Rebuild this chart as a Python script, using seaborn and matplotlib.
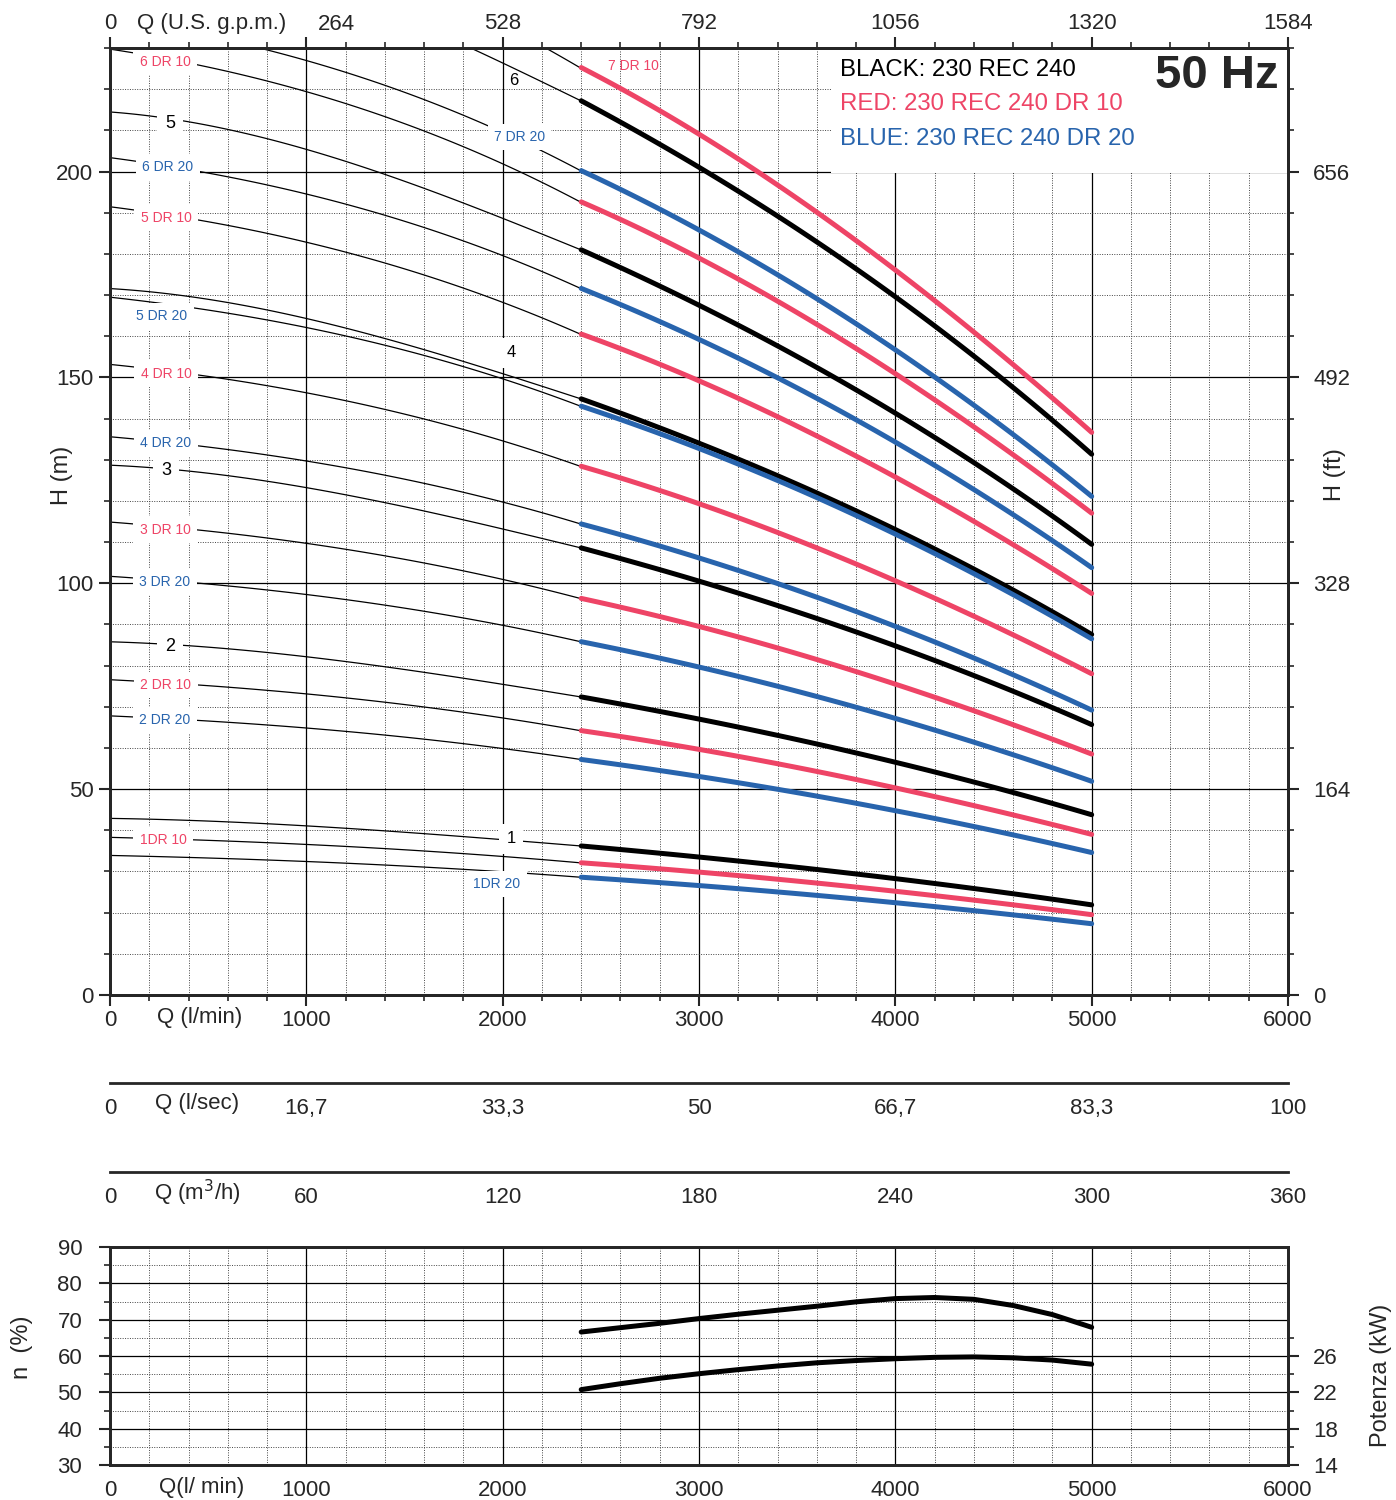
import matplotlib
matplotlib.use("Agg")
import matplotlib.pyplot as plt
from matplotlib.ticker import MultipleLocator
from matplotlib.patches import Rectangle
import seaborn as sns

# flow grids (l/min): thin part of each curve and thick (working range) part
Q_THIN = [0, 400, 800, 1200, 1600, 2000, 2400]
Q_THICK = [2400, 3000, 3500, 4000, 4500, 5000]

# head (m), one row per stage count
BLACK_THIN = [
    [42.9, 42.4, 41.6, 40.5, 39.2, 37.7, 36.2],
    [85.8, 84.8, 83.2, 81.0, 78.4, 75.4, 72.4],
    [128.7, 127.2, 124.8, 121.5, 117.6, 113.1, 108.6],
    [171.6, 169.6, 166.4, 162.0, 156.8, 150.8, 144.8],
    [214.5, 212.0, 208.0, 202.5, 196.0, 188.5, 181.0],
    [257.4, 254.4, 249.6, 243.0, 235.2, 226.2, 217.2],
]
BLACK_THICK = [
    [36.2, 33.5, 31.0, 28.3, 25.2, 21.9],
    [72.4, 67.0, 62.0, 56.6, 50.4, 43.8],
    [108.6, 100.5, 93.0, 84.9, 75.6, 65.7],
    [144.8, 134.0, 124.0, 113.2, 100.8, 87.6],
    [181.0, 167.5, 155.0, 141.5, 126.0, 109.5],
    [217.2, 201.0, 186.0, 169.8, 151.2, 131.4],
]
RED_THIN = [
    [38.3, 37.7, 37.0, 36.1, 35.0, 33.6, 32.1],
    [76.6, 75.4, 74.0, 72.2, 70.0, 67.2, 64.2],
    [114.9, 113.1, 111.0, 108.3, 105.0, 100.8, 96.3],
    [153.2, 150.8, 148.0, 144.4, 140.0, 134.4, 128.4],
    [191.5, 188.5, 185.0, 180.5, 175.0, 168.0, 160.5],
    [229.8, 226.2, 222.0, 216.6, 210.0, 201.6, 192.6],
    [268.1, 263.9, 259.0, 252.7, 245.0, 235.2, 225.2],
]
RED_THICK = [
    [32.1, 29.9, 27.6, 25.2, 22.5, 19.5],
    [64.2, 59.7, 55.2, 50.3, 44.9, 39.0],
    [96.3, 89.6, 82.8, 75.5, 67.4, 58.5],
    [128.4, 119.4, 110.4, 100.6, 89.8, 78.0],
    [160.5, 149.3, 138.0, 125.8, 112.3, 97.5],
    [192.6, 179.1, 165.6, 150.9, 134.7, 117.0],
    [225.2, 209.3, 193.2, 176.1, 157.2, 136.6],
]
BLUE_THIN = [
    [33.9, 33.4, 32.8, 32.0, 31.1, 29.9, 28.6],
    [67.8, 66.8, 65.6, 64.0, 62.2, 59.8, 57.2],
    [101.7, 100.2, 98.4, 96.0, 93.3, 89.7, 85.8],
    [135.6, 133.6, 131.2, 128.0, 124.4, 119.6, 114.4],
    [169.5, 167.0, 164.0, 160.0, 155.5, 149.5, 143.0],
    [203.4, 200.4, 196.8, 192.0, 186.6, 179.4, 171.6],
    [237.3, 233.8, 229.6, 224.0, 217.7, 209.3, 200.2],
]
BLUE_THICK = [
    [28.6, 26.6, 24.6, 22.4, 20.0, 17.3],
    [57.2, 53.1, 49.1, 44.8, 39.9, 34.6],
    [85.8, 79.7, 73.7, 67.2, 59.9, 51.9],
    [114.4, 106.2, 98.2, 89.6, 79.8, 69.2],
    [143.0, 132.8, 122.8, 112.0, 99.8, 86.5],
    [171.6, 159.3, 147.3, 134.4, 119.7, 103.8],
    [200.2, 185.9, 171.9, 156.8, 139.7, 121.1],
]

# efficiency (%) and power (kW)
EFF_Q = [2400, 2600, 2800, 3000, 3200, 3400, 3600, 3800, 4000, 4200, 4400, 4600, 4800, 5000]
EFF = [66.6, 67.8, 69.0, 70.3, 71.5, 72.6, 73.7, 74.9, 75.8, 76.1, 75.6, 73.9, 71.4, 67.9]
POWER = [22.3, 22.95, 23.55, 24.05, 24.5, 24.9, 25.25, 25.5, 25.7, 25.85, 25.9, 25.8, 25.55, 25.1]

# tick labels of the unit scales
LMIN_TICKS = [0, 1000, 2000, 3000, 4000, 5000, 6000]
GPM_LABELS = ["0", "", "528", "792", "1056", "1320", "1584"]
LSEC_LABELS = ["0", "16,7", "33,3", "50", "66,7", "83,3", "100"]
M3H_LABELS = ["0", "60", "120", "180", "240", "300", "360"]
FT_TICKS = [0, 50, 100, 150, 200]
FT_LABELS = ["0", "164", "328", "492", "656"]

RED = "#ee4466"
BLUE = "#2864ad"

sns.set_style("white")
plt.rcParams["font.family"] = ["Liberation Sans", "DejaVu Sans"]
plt.rcParams["axes.linewidth"] = 2

W_PX, H_PX = 1396, 1500
fig = plt.figure(figsize=(W_PX / 100, H_PX / 100), dpi=100)
L, W = 110 / W_PX, 1178 / W_PX
TS = 16  # tick label size


def px(x, y):
    return x / W_PX, 1 - y / H_PX


def style_ticks(a, **kw):
    a.tick_params(which="major", length=8, width=1.5, direction="out", labelsize=TS, **kw)
    a.tick_params(which="minor", length=4, width=1.2, direction="out", **kw)


def draw_curves(a, q, rows, color, lw, z):
    # smooth cubic through the read points, drawn by seaborn
    for vals in rows:
        sns.regplot(x=q, y=vals, order=3, ci=None, scatter=False, truncate=True,
                    color=color, line_kws=dict(lw=lw, zorder=z), ax=a)


# ---------------- main head chart ----------------
ax = fig.add_axes([L, 1 - 995 / H_PX, W, 947 / H_PX])
ax.set_axisbelow(True)
for rows in (BLACK_THIN, RED_THIN, BLUE_THIN):
    draw_curves(ax, Q_THIN, rows, "black", 0.9, 2)
draw_curves(ax, Q_THICK, BLACK_THICK, "black", 3.6, 3)
draw_curves(ax, Q_THICK, RED_THICK, RED, 3.6, 3)
draw_curves(ax, Q_THICK, BLUE_THICK, BLUE, 3.6, 3)
ax.set_xlim(0, 6000)
ax.set_ylim(0, 230)
ax.set_xlabel("")
ax.set_ylabel("")
ax.set_xticks(LMIN_TICKS)
ax.xaxis.set_minor_locator(MultipleLocator(200))
ax.yaxis.set_major_locator(MultipleLocator(50))
ax.yaxis.set_minor_locator(MultipleLocator(10))
ax.grid(which="major", color="black", lw=0.9)
ax.grid(which="minor", color="#444444", lw=0.7, ls=(0, (1, 1.5)))
style_ticks(ax, pad=4)
ax.tick_params(axis="x", which="major", pad=3)
ax.add_patch(Rectangle((3670, 199.6), 2330, 30.4, facecolor="white", edgecolor="none", zorder=1.5))

ax_ft = ax.twinx()
ax_ft.set_ylim(0, 230)
ax_ft.set_yticks(FT_TICKS, FT_LABELS)
ax_ft.yaxis.set_minor_locator(MultipleLocator(10))
style_ticks(ax_ft, pad=10)

ax_gpm = ax.twiny()
ax_gpm.set_xlim(0, 6000)
ax_gpm.set_xticks(LMIN_TICKS, GPM_LABELS)
ax_gpm.xaxis.set_minor_locator(MultipleLocator(200))
style_ticks(ax_gpm, pad=2)

# curve labels on the thin lines
box = dict(boxstyle="square,pad=0.45", fc="white", ec="none")
curve_labels = [
    ("6 DR 10", 280, 226.7, RED, 10), ("5", 306, 211.7, "black", 13),
    ("6 DR 20", 295, 201.0, BLUE, 10), ("5 DR 10", 285, 188.8, RED, 10),
    ("5 DR 20", 265, 164.8, BLUE, 10), ("4 DR 10", 285, 150.9, RED, 10),
    ("4 DR 20", 285, 134.1, BLUE, 10), ("3", 285, 127.3, "black", 13),
    ("3 DR 10", 280, 113.0, RED, 10), ("3 DR 20", 280, 100.4, BLUE, 10),
    ("2", 306, 84.6, "black", 13), ("2 DR 10", 285, 75.3, RED, 10),
    ("2 DR 20", 280, 66.8, BLUE, 10), ("1DR 10", 270, 37.6, RED, 10),
    ("1", 2042, 37.9, "black", 12), ("1DR 20", 1971, 27.0, BLUE, 10),
    ("4", 2042, 156.0, "black", 12), ("7 DR 20", 2085, 208.4, BLUE, 10),
]
for txt, q, h, c, fs in curve_labels:
    ax.text(q, h, txt, color=c, fontsize=fs, ha="center", va="center", bbox=box, zorder=4)
ax.text(2058, 222.0, "6", color="black", fontsize=12, ha="center", va="center", zorder=4)
ax.text(2665, 225.6, "7 DR 10", color=RED, fontsize=10, ha="center", va="center", zorder=4)

# legend text and frequency
fig.text(*px(840, 70), "BLACK: 230 REC 240", color="black", fontsize=17.3, va="center")
fig.text(*px(840, 104), "RED: 230 REC 240 DR 10", color=RED, fontsize=17.3, va="center")
fig.text(*px(840, 139), "BLUE: 230 REC 240 DR 20", color=BLUE, fontsize=17.3, va="center")
fig.text(*px(1279, 76), "50 Hz", fontsize=34, fontweight="bold", ha="right", va="center")

fig.text(*px(212, 24), "Q (U.S. g.p.m.)", fontsize=TS, ha="center", va="center")
fig.text(*px(336, 24), "264", fontsize=TS, ha="center", va="center")
fig.text(*px(200, 1017), "Q (l/min)", fontsize=TS, ha="center", va="center")
fig.text(*px(62, 475), "H (m)", fontsize=17, rotation=90, ha="center", va="center")
fig.text(*px(1335, 475), "H (ft)", fontsize=17, rotation=90, ha="center", va="center")


# ---------------- extra flow scales ----------------
def unit_axis(ypix, labels, name):
    a = fig.add_axes([L, 1 - ypix / H_PX, W, 1e-4])
    a.patch.set_visible(False)
    a.set_xlim(0, 6000)
    a.set_yticks([])
    for s in ("top", "left", "right"):
        a.spines[s].set_visible(False)
    a.set_xticks(LMIN_TICKS, labels)
    a.xaxis.set_minor_locator(MultipleLocator(200))
    style_ticks(a, pad=3)
    fig.text(*px(197, ypix + 21), name, fontsize=TS, ha="center", va="center")


unit_axis(1083, LSEC_LABELS, "Q (l/sec)")
unit_axis(1172, M3H_LABELS, "Q (m$^3$/h)")

# ---------------- efficiency / power ----------------
ax2 = fig.add_axes([L, 1 - 1465 / H_PX, W, 218 / H_PX])
ax2.set_axisbelow(True)
sns.lineplot(x=EFF_Q, y=EFF, color="black", lw=3.6, ax=ax2, zorder=3)
ax2.set_xlim(0, 6000)
ax2.set_ylim(30, 90)
ax2.set_xticks(LMIN_TICKS)
ax2.xaxis.set_minor_locator(MultipleLocator(200))
ax2.yaxis.set_major_locator(MultipleLocator(10))
ax2.yaxis.set_minor_locator(MultipleLocator(5))
ax2.grid(which="major", color="black", lw=0.9)
ax2.grid(which="minor", color="#444444", lw=0.7, ls=(0, (1, 1.5)))
style_ticks(ax2, pad=3)
ax2.tick_params(axis="y", which="major", pad=12)

ax_kw = ax2.twinx()
sns.lineplot(x=EFF_Q, y=POWER, color="black", lw=3.6, ax=ax_kw, zorder=3)
ax_kw.set_ylim(14, 38)
ax_kw.set_yticks([14, 18, 22, 26])
ax_kw.set_yticks([16, 20, 24, 28], minor=True)
ax_kw.grid(False)
style_ticks(ax_kw, pad=10)

fig.text(*px(202, 1488), "Q(l/ min)", fontsize=TS, ha="center", va="center")
fig.text(*px(22, 1347), "n  (%)", fontsize=17, rotation=90, ha="center", va="center")
fig.text(*px(1381, 1375), "Potenza (kW)", fontsize=17, rotation=90, ha="center", va="center")

fig.savefig("out.png", dpi=100)
